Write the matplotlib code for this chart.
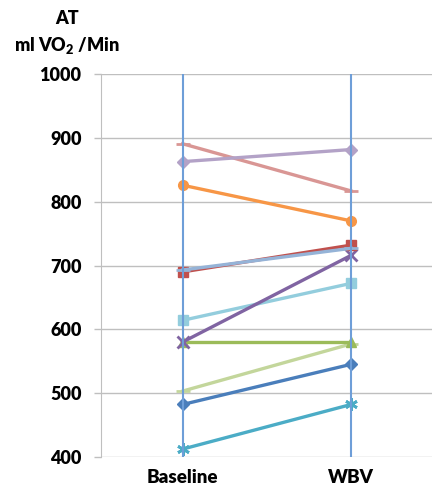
import matplotlib
matplotlib.use("Agg")
import matplotlib.pyplot as plt

plt.rcParams['font.family'] = ['Lato', 'DejaVu Sans']
plt.rcParams['mathtext.fontset'] = 'custom'
plt.rcParams['mathtext.rm'] = 'Lato:heavy'
plt.rcParams['mathtext.bf'] = 'Lato:heavy'

categories = ["Baseline", "WBV"]
y_ticks = [400, 500, 600, 700, 800, 900, 1000]

# AT per subject: (baseline, WBV)
subj_blue_diamond = [482, 545]
subj_red_square = [690, 732]
subj_green_triangle = [580, 580]
subj_purple_x = [580, 716]
subj_teal_star = [412, 482]
subj_orange_circle = [826, 770]
subj_lightblue_dash = [693, 727]
subj_pink_dash = [891, 817]
subj_lavender_diamond = [863, 882]
subj_lightblue_square = [614, 672]
subj_lightgreen_dash = [503, 577]

series = [
    (subj_pink_dash, "#D99694", "_", 10),
    (subj_lavender_diamond, "#B3A2C7", "D", 6),
    (subj_orange_circle, "#F79646", "o", 7),
    (subj_lightblue_square, "#93CDDD", "s", 7),
    (subj_lightgreen_dash, "#C3D69B", "_", 10),
    (subj_green_triangle, "#9BBB59", "^", 7),
    (subj_purple_x, "#8064A2", "x", 8),
    (subj_red_square, "#C0504D", "s", 7),
    (subj_lightblue_dash, "#95B3D7", "_", 10),
    (subj_blue_diamond, "#4A7EBB", "D", 6),
    (subj_teal_star, "#4BACC6", (6, 2, 0), 9),
]

fig = plt.figure(figsize=(4.32, 4.88), dpi=100)
ax = fig.add_axes([0.2338, 0.0641, 0.7662, 0.7836])

x = list(range(len(categories)))
for vals, color, marker, ms in series:
    ax.plot(x, vals, color=color, lw=2.4, marker=marker, ms=ms,
            mew=2 if marker in ("_", "x", (6, 2, 0)) else 1,
            mec=color, mfc=color, zorder=3, clip_on=False)

for xi in x:
    ax.axvline(xi, color="#6E9ED8", lw=1.5, zorder=4)

ax.set_xlim(-0.485, 1.48)
ax.set_ylim(400, 1000)
ax.set_yticks(y_ticks)
ax.set_yticklabels([str(v) for v in y_ticks], fontsize=13, fontweight="heavy")
ax.set_xticks(x)
ax.set_xticklabels(categories, fontsize=13.5, fontweight="heavy")
ax.tick_params(axis="x", length=0, pad=9)
ax.tick_params(axis="y", length=5, width=1, color="#BFBFBF", pad=9)
ax.grid(axis="y", color="#BFBFBF", lw=1)
ax.set_axisbelow(True)
for s in ["top", "right", "bottom"]:
    ax.spines[s].set_visible(False)
ax.spines["left"].set_color("#BFBFBF")

fig.text(0.155, 0.962, "AT", ha="center", va="center", fontsize=13, fontweight="heavy")
fig.text(0.155, 0.907, r"ml VO$_2$ /Min", ha="center", va="center", fontsize=13, fontweight="heavy")

fig.savefig("out.png", dpi=100)
